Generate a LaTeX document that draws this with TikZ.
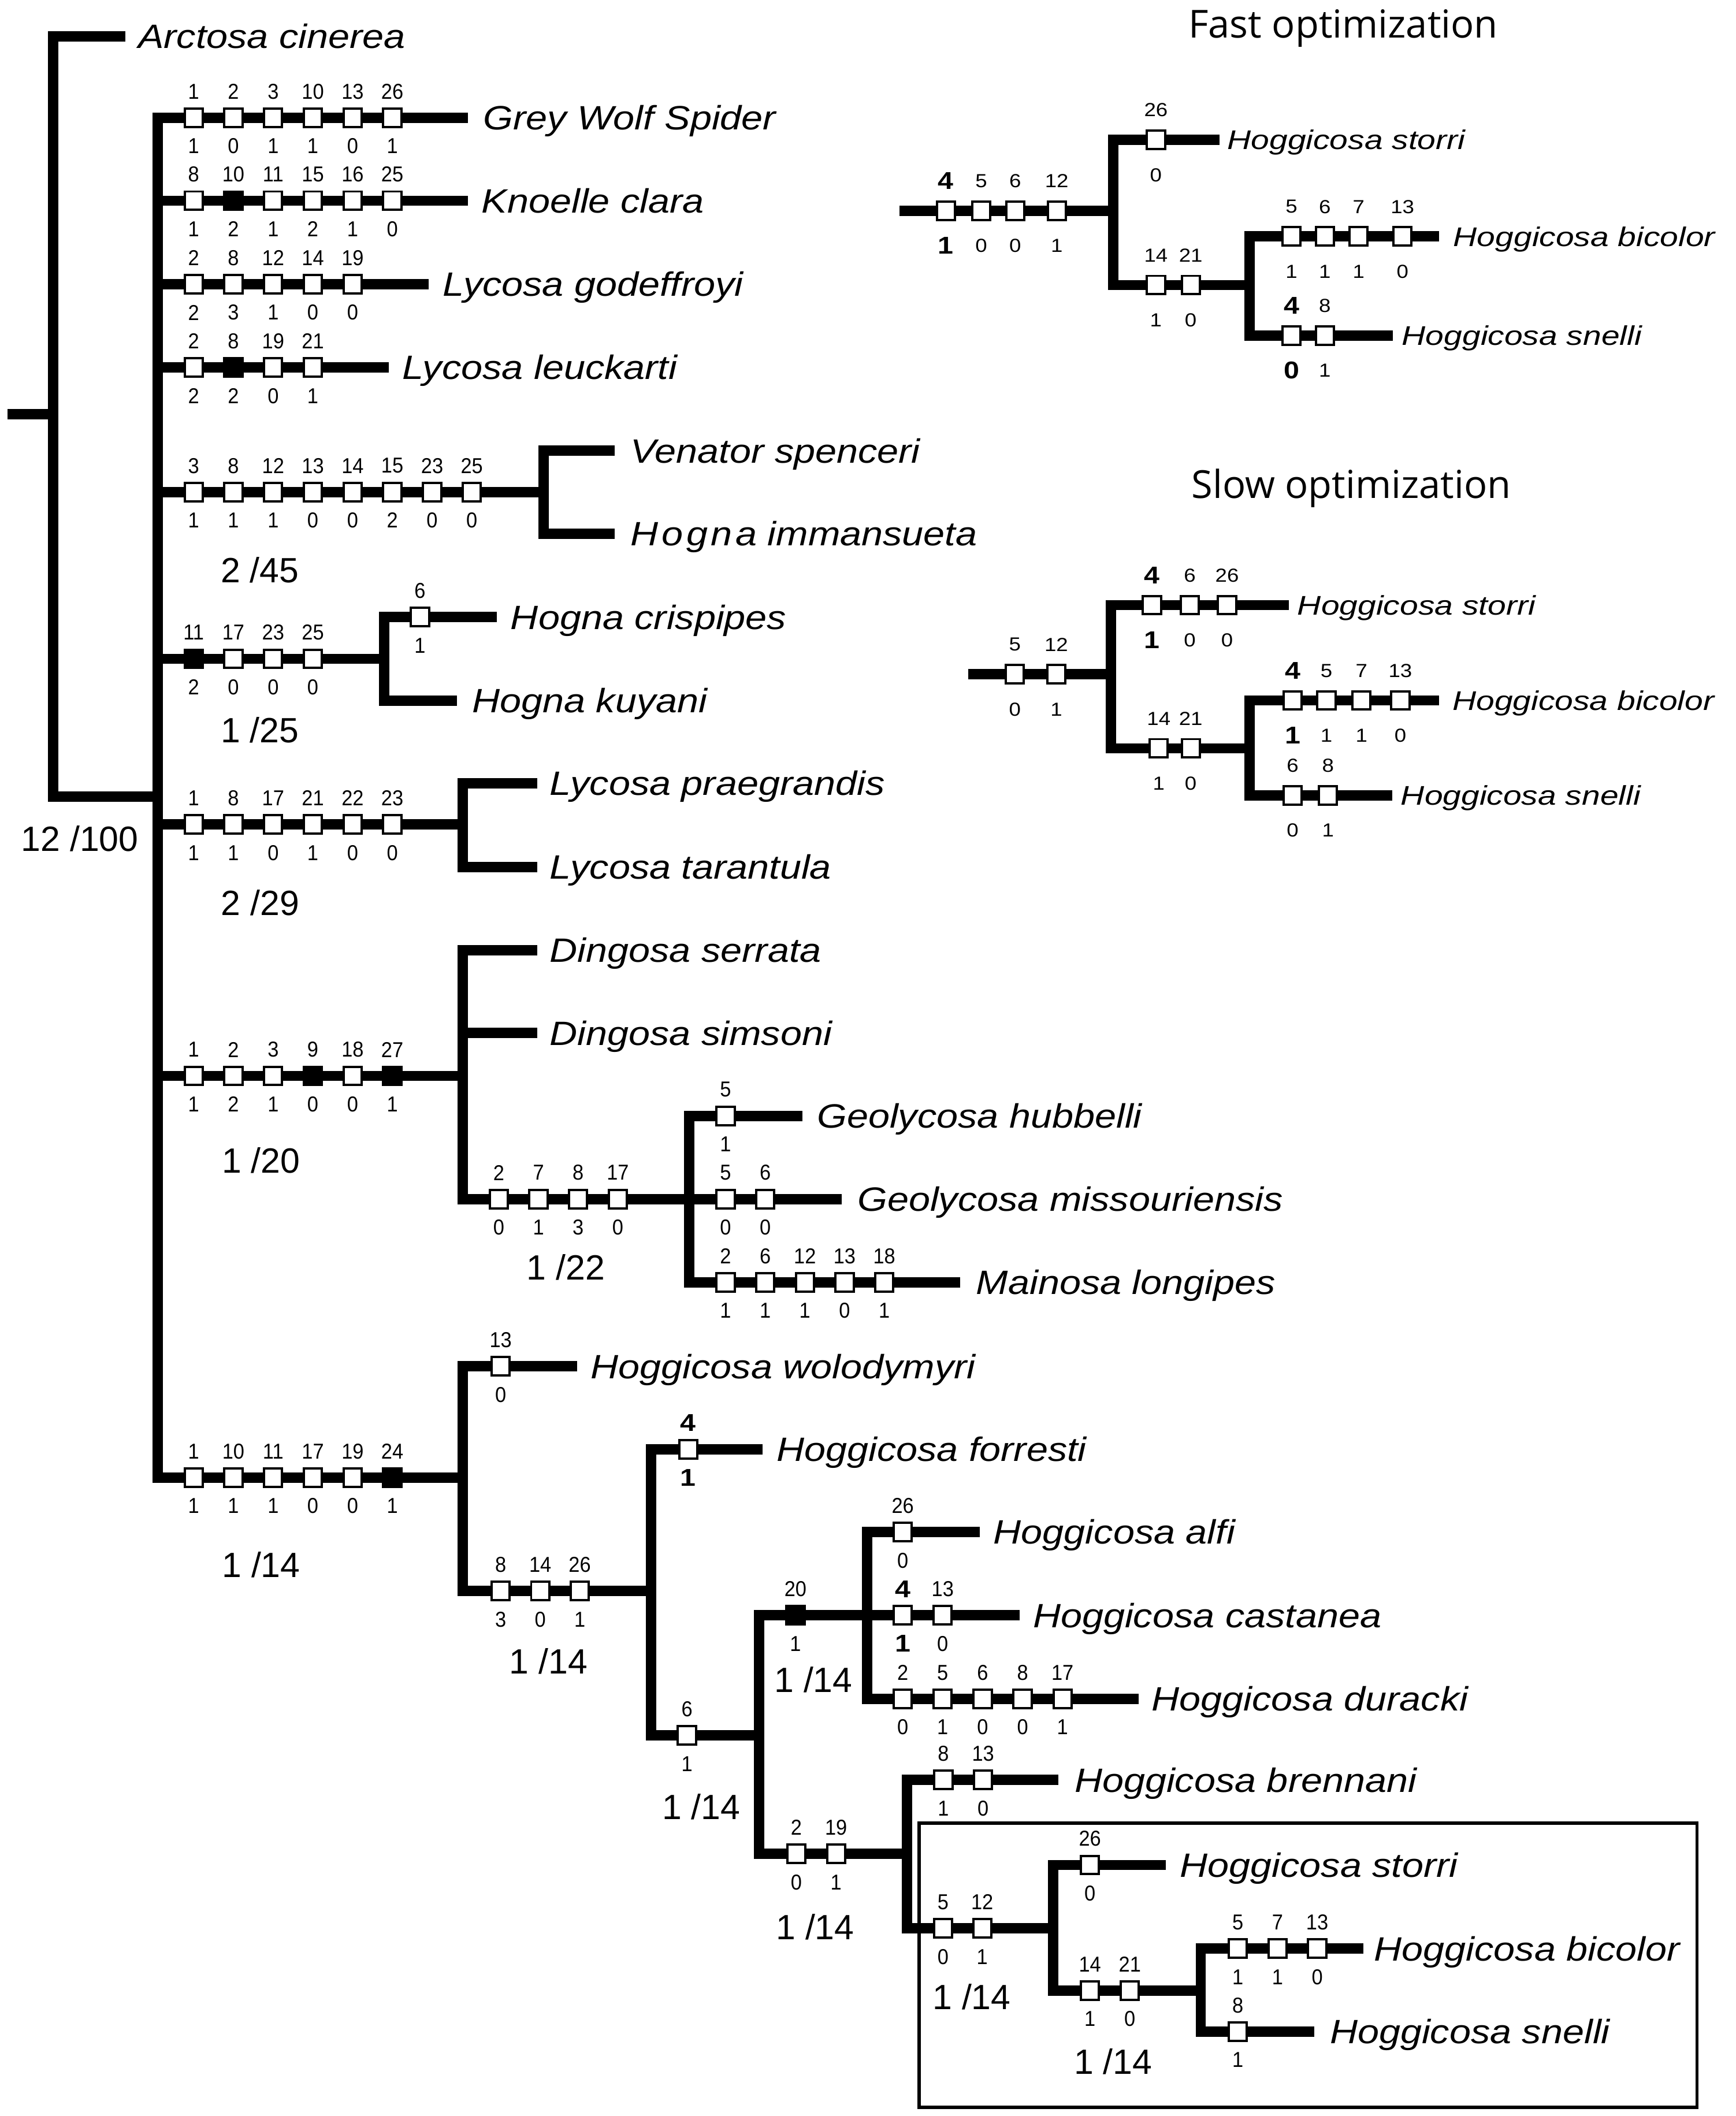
\documentclass[tikz,border=0pt]{standalone}
\usepackage{fontspec}
\newfontfamily\taxfont[FakeStretch=1.14]{Liberation Sans Italic}
\newfontfamily\itaxfont[FakeStretch=1.22]{Liberation Sans Italic}
\newfontfamily\numfont[FakeStretch=0.92]{Liberation Sans}
\newfontfamily\inumfont[FakeStretch=1.12]{Liberation Sans}
\newfontfamily\bnumfont[FakeStretch=1.15]{Liberation Sans Bold}
\newfontfamily\statfont{Liberation Sans}
\newfontfamily\ttlfont{Open Sans}
\newcommand\B[1]{{\bnumfont\fontsize{9}{9}\selectfont #1}}
\def\offU{19.5}
\def\offD{21}
\newcommand\chars[3]{%
  \foreach \cX/\cTop/\cBot/\cS [count=\ci] in {#3} {
    \node[\cS] (#1b\ci) at (\cX,#2) {};
    \node[num] (#1t\ci) at (\cX,{#2-\offU}) {\cTop};
    \node[num] (#1u\ci) at (\cX,{#2+\offD}) {\cBot};
  }%
}
\tikzset{
  br/.style={line width=3.8pt},
  vt/.style={line width=3.8pt, line cap=rect},
  obox/.style={draw=black, fill=white, line width=0.85pt, rectangle, minimum width=6.7pt, minimum height=6.8pt, inner sep=0pt},
  fbox/.style={obox, fill=black},
  num/.style={font=\numfont\fontsize{8}{9}\selectfont, inner sep=0pt},
  taxon/.style={font=\taxfont\fontsize{12.5}{14}\selectfont, inner sep=0pt, anchor=base west, yshift=-4.45pt},
  itaxon/.style={font=\itaxfont\fontsize{10}{12}\selectfont, inner sep=0pt, anchor=base west, yshift=-3.6pt},
  stat/.style={font=\statfont\fontsize{13}{14}\selectfont, inner sep=0pt},
  ttl/.style={font=\ttlfont\fontsize{14.3}{16}\selectfont, inner sep=0pt, anchor=base},
  frame/.style={line width=1.2pt},
}
\begin{document}
\begin{tikzpicture}[x=0.5pt,y=-0.5pt]
\useasboundingbox (0,0) rectangle (1286,1568);
% ---------------- backbone
\draw[br] (5.5,307) -- (39.5,307);
\draw[vt] (39.5,27) -- (39.5,590.4);
\draw[br] (39.5,27) -- (92.8,27);
\draw[br] (39.5,590.4) -- (116.7,590.4);
\draw[vt] (116.7,87.3) -- (116.7,1094.9);
\node[taxon] (arctosa) at (102,27) {Arctosa cinerea};
\node[stat] (s12100) at (59.2,621.3) {12 /100};
% ---------------- Grey Wolf Spider
\draw[br] (116.7,87.3) -- (346.7,87.3);
\node[taxon] (grey) at (357.6,87.3) {Grey Wolf Spider};
\chars{gw}{87.3}{143.5/1/1/obox, 172.9/2/0/obox, 202.4/3/1/obox, 231.8/10/1/obox, 261.3/13/0/obox, 290.7/26/1/obox}
% ---------------- Knoelle clara
\draw[br] (116.7,148.7) -- (346.7,148.7);
\node[taxon] (knoelle) at (356.5,148.7) {Knoelle clara};
\chars{kc}{148.7}{143.5/8/1/obox, 172.9/10/2/fbox, 202.4/11/1/obox, 231.8/15/2/obox, 261.3/16/1/obox, 290.7/25/0/obox}
% ---------------- Lycosa godeffroyi
\draw[br] (116.7,210.6) -- (317.5,210.6);
\node[taxon] (godef) at (327.6,210.6) {Lycosa godeffroyi};
\chars{lg}{210.6}{143.5/2/2/obox, 172.9/8/3/obox, 202.4/12/1/obox, 231.8/14/0/obox, 261.3/19/0/obox}
% ---------------- Lycosa leuckarti
\draw[br] (116.7,272.3) -- (288,272.3);
\node[taxon] (leuck) at (297.6,272.3) {Lycosa leuckarti};
\chars{ll}{272.3}{143.5/2/2/obox, 172.9/8/2/fbox, 202.4/19/0/obox, 231.8/21/1/obox}
% ---------------- Venator / Hogna immansueta
\draw[br] (116.7,364.6) -- (402.7,364.6);
\draw[vt] (402.7,334) -- (402.7,395.6);
\draw[br] (402.7,334) -- (455.5,334);
\draw[br] (402.7,395.6) -- (455.5,395.6);
\node[taxon] (venator) at (467,334) {Venator spenceri};
\node[taxon] (immans) at (467,395.6) {H\kern1.2pt o\kern1.2pt g\kern1.2pt n\kern1.2pt a immansueta};
\chars{vs}{364.6}{143.5/3/1/obox, 172.9/8/1/obox, 202.4/12/1/obox, 231.8/13/0/obox, 261.3/14/0/obox, 290.7/15/2/obox, 320.2/23/0/obox, 349.6/25/0/obox}
\node[stat] (s245) at (192.5,422.6) {2 /45};
% ---------------- Hogna crispipes / kuyani
\draw[br] (116.7,488.2) -- (284.5,488.2);
\draw[vt] (284.5,457.3) -- (284.5,519.2);
\draw[br] (284.5,457.3) -- (368,457.3);
\draw[br] (284.5,519.2) -- (338.6,519.2);
\node[taxon] (crisp) at (378,457.3) {Hogna crispipes};
\node[taxon] (kuyani) at (349.5,519.2) {Hogna kuyani};
\chars{hg}{488.2}{143.5/11/2/fbox, 172.9/17/0/obox, 202.4/23/0/obox, 231.8/25/0/obox}
\chars{hc}{457.3}{311.2/6/1/obox}
\node[stat] (s125) at (192.5,541) {1 /25};
% ---------------- Lycosa praegrandis / tarantula
\draw[br] (116.7,611) -- (343,611);
\draw[vt] (343,580.5) -- (343,642.6);
\draw[br] (343,580.5) -- (398,580.5);
\draw[br] (343,642.6) -- (398,642.6);
\node[taxon] (praeg) at (407,580.5) {Lycosa praegrandis};
\node[taxon] (taran) at (407,642.6) {Lycosa tarantula};
\chars{lp}{611}{143.5/1/1/obox, 172.9/8/1/obox, 202.4/17/0/obox, 231.8/21/1/obox, 261.3/22/0/obox, 290.7/23/0/obox}
\node[stat] (s229) at (192.8,669) {2 /29};
% ---------------- Dingosa / Geolycosa / Mainosa
\draw[br] (116.7,797.3) -- (343,797.3);
\draw[vt] (343,704.2) -- (343,888.5);
\draw[br] (343,704.2) -- (398,704.2);
\draw[br] (343,765.5) -- (398,765.5);
\draw[br] (343,888.5) -- (510.7,888.5);
\draw[vt] (510.7,826.9) -- (510.7,950.3);
\draw[br] (510.7,826.9) -- (594.7,826.9);
\draw[br] (510.7,888.5) -- (623.5,888.5);
\draw[br] (510.7,950.3) -- (711.6,950.3);
\node[taxon] (serrata) at (407,704.2) {Dingosa serrata};
\node[taxon] (simsoni) at (407,765.5) {Dingosa simsoni};
\node[taxon] (hubbelli) at (605,826.9) {Geolycosa hubbelli};
\node[taxon] (missouri) at (635,888.5) {Geolycosa missouriensis};
\node[taxon] (mainosa) at (723,950.3) {Mainosa longipes};
\chars{dg}{797.3}{143.5/1/1/obox, 172.9/2/2/obox, 202.4/3/1/obox, 231.8/9/0/fbox, 261.3/18/0/obox, 290.7/27/1/fbox}
\chars{ds}{888.5}{369.6/2/0/obox, 399/7/1/obox, 428.4/8/3/obox, 457.8/17/0/obox}
\chars{gh}{826.9}{537.6/5/1/obox}
\chars{gm}{888.5}{537.6/5/0/obox, 567/6/0/obox}
\chars{ml}{950.3}{537.6/2/1/obox, 567/6/1/obox, 596.4/12/1/obox, 625.8/13/0/obox, 655.2/18/1/obox}
\node[stat] (s120) at (193.3,860) {1 /20};
\node[stat] (s122) at (419.3,939) {1 /22};
% ---------------- Hoggicosa
\draw[br] (116.7,1094.9) -- (342.9,1094.9);
\draw[vt] (342.9,1012.5) -- (342.9,1179);
\draw[br] (342.9,1012.5) -- (427.7,1012.5);
\draw[br] (342.9,1179) -- (482.4,1179);
\draw[vt] (482.4,1073.9) -- (482.4,1286);
\draw[br] (482.4,1073.9) -- (565,1073.9);
\draw[br] (482.4,1286) -- (562.6,1286);
\draw[vt] (562.6,1197) -- (562.6,1373.8);
\draw[br] (562.6,1197) -- (642.5,1197);
\draw[vt] (642.5,1135.3) -- (642.5,1258.9);
\draw[br] (642.5,1135.3) -- (726.2,1135.3);
\draw[br] (642.5,1197) -- (755.6,1197);
\draw[br] (642.5,1258.9) -- (843.5,1258.9);
\draw[br] (562.6,1373.8) -- (672,1373.8);
\draw[vt] (672,1319) -- (672,1429);
\draw[br] (672,1319) -- (784.3,1319);
\draw[br] (672,1429) -- (780.5,1429);
\draw[vt] (780.5,1382) -- (780.5,1475);
\draw[br] (780.5,1382) -- (863.8,1382);
\draw[br] (780.5,1475) -- (889.7,1475);
\draw[vt] (889.7,1444) -- (889.7,1505.4);
\draw[br] (889.7,1444) -- (1010.3,1444);
\draw[br] (889.7,1505.4) -- (973.9,1505.4);
\draw[frame] (681,1350.9) rectangle (1257.5,1561.5);
\node[taxon] (wolody) at (437.3,1012.5) {Hoggicosa wolodymyri};
\node[taxon] (forresti) at (575,1073.9) {Hoggicosa forresti};
\node[taxon] (alfi) at (735.8,1135.3) {Hoggicosa alfi};
\node[taxon] (castanea) at (765,1197) {Hoggicosa castanea};
\node[taxon] (duracki) at (853,1258.9) {Hoggicosa duracki};
\node[taxon] (brennani) at (795.8,1319) {Hoggicosa brennani};
\node[taxon] (storri) at (874,1382) {Hoggicosa storri};
\node[taxon] (bicolor) at (1017.8,1444) {Hoggicosa bicolor};
\node[taxon] (snelli) at (985,1505.4) {Hoggicosa snelli};
\chars{hoA}{1094.9}{143.5/1/1/obox, 172.9/10/1/obox, 202.4/11/1/obox, 231.8/17/0/obox, 261.3/19/0/obox, 290.7/24/1/fbox}
\chars{hw}{1012.5}{371/13/0/obox}
\chars{hoB}{1179}{371/8/3/obox, 400.3/14/0/obox, 429.6/26/1/obox}
\chars{hf}{1073.9}{510/\B{4}/\B{1}/obox}
\chars{hoC}{1286}{509/6/1/obox}
\chars{hoD}{1197}{589.4/20/1/fbox}
\chars{ha}{1135.3}{668.9/26/0/obox}
\chars{hca}{1197}{668.9/\B{4}/\B{1}/obox, 698.5/13/0/obox}
\chars{hd}{1258.9}{668.9/2/0/obox, 698.5/5/1/obox, 728.1/6/0/obox, 757.7/8/0/obox, 787.3/17/1/obox}
\chars{hoE}{1373.8}{590/2/0/obox, 619.5/19/1/obox}
\chars{hb}{1319}{699/8/1/obox, 728.4/13/0/obox}
\chars{hoF}{1429}{698.8/5/0/obox, 727.8/12/1/obox}
\chars{hs}{1382}{807.6/26/0/obox}
\chars{hoG}{1475}{807.6/14/1/obox, 837.2/21/0/obox}
\chars{hbi}{1444}{917.2/5/1/obox, 946.6/7/1/obox, 976/13/0/obox}
\chars{hsn}{1505.4}{917.2/8/1/obox}
\node[stat] (s114a) at (193.5,1159.5) {1 /14};
\node[stat] (s114b) at (406.4,1231) {1 /14};
\node[stat] (s114c) at (602.7,1244.8) {1 /14};
\node[stat] (s114d) at (519.6,1339) {1 /14};
\node[stat] (s114e) at (604,1428) {1 /14};
\node[stat] (s114f) at (720,1479.7) {1 /14};
\node[stat] (s114g) at (824.8,1527.7) {1 /14};
% ---------------- Fast optimization inset
\def\offU{22}
\def\offD{26}
\tikzset{num/.style={font=\inumfont\fontsize{7}{8}\selectfont, inner sep=0pt}}
\node[ttl] (fast) at (995.3,28) {Fast optimization};
\draw[br] (666.7,156.1) -- (824.8,156.1);
\draw[vt] (824.8,103.6) -- (824.8,211.2);
\draw[br] (824.8,103.6) -- (903.7,103.6);
\draw[br] (824.8,211.2) -- (925.9,211.2);
\draw[vt] (925.9,175.2) -- (925.9,248.6);
\draw[br] (925.9,175.2) -- (1066.3,175.2);
\draw[br] (925.9,248.6) -- (1032.2,248.6);
\chars{fr}{156.1}{700.9/\B{4}/\B{1}/obox, 727.1/5/0/obox, 752.2/6/0/obox, 783/12/1/obox}
\chars{fs}{103.6}{856.5/26/0/obox}
\chars{fm}{211.2}{856.5/14/1/obox, 882.3/21/0/obox}
\chars{fb}{175.2}{957/5/1/obox, 981.7/6/1/obox, 1006.7/7/1/obox, 1039.2/13/0/obox}
\chars{fn}{248.6}{957/\B{4}/\B{0}/obox, 981.7/8/1/obox}
\node[itaxon] (fstorri) at (909,103.6) {Hoggicosa storri};
\node[itaxon] (fbicolor) at (1076.5,175.2) {Hoggicosa bicolor};
\node[itaxon] (fsnelli) at (1038.4,248.6) {Hoggicosa snelli};
% ---------------- Slow optimization inset
\node[ttl] (slow) at (1001.2,369) {Slow optimization};
\draw[br] (717.5,499.6) -- (823.3,499.6);
\draw[vt] (823.3,448.4) -- (823.3,554.5);
\draw[br] (823.3,448.4) -- (955.2,448.4);
\draw[br] (823.3,554.5) -- (926,554.5);
\draw[vt] (926,519) -- (926,589.3);
\draw[br] (926,519) -- (1066.4,519);
\draw[br] (926,589.3) -- (1031.8,589.3);
\chars{sr}{499.6}{752/5/0/obox, 782.7/12/1/obox}
\chars{ss}{448.4}{853.6/\B{4}/\B{1}/obox, 881.6/6/0/obox, 909.2/26/0/obox}
\chars{sm}{554.5}{858.6/14/1/obox, 882.3/21/0/obox}
\chars{sb}{519}{957.8/\B{4}/\B{1}/obox, 982.8/5/1/obox, 1008.8/7/1/obox, 1037.6/13/0/obox}
\chars{sn}{589.3}{957.8/6/0/obox, 984/8/1/obox}
\node[itaxon] (sstorri) at (961,448.4) {Hoggicosa storri};
\node[itaxon] (sbicolor) at (1075.9,519) {Hoggicosa bicolor};
\node[itaxon] (ssnelli) at (1037.6,589.3) {Hoggicosa snelli};
\end{tikzpicture}
\end{document}
